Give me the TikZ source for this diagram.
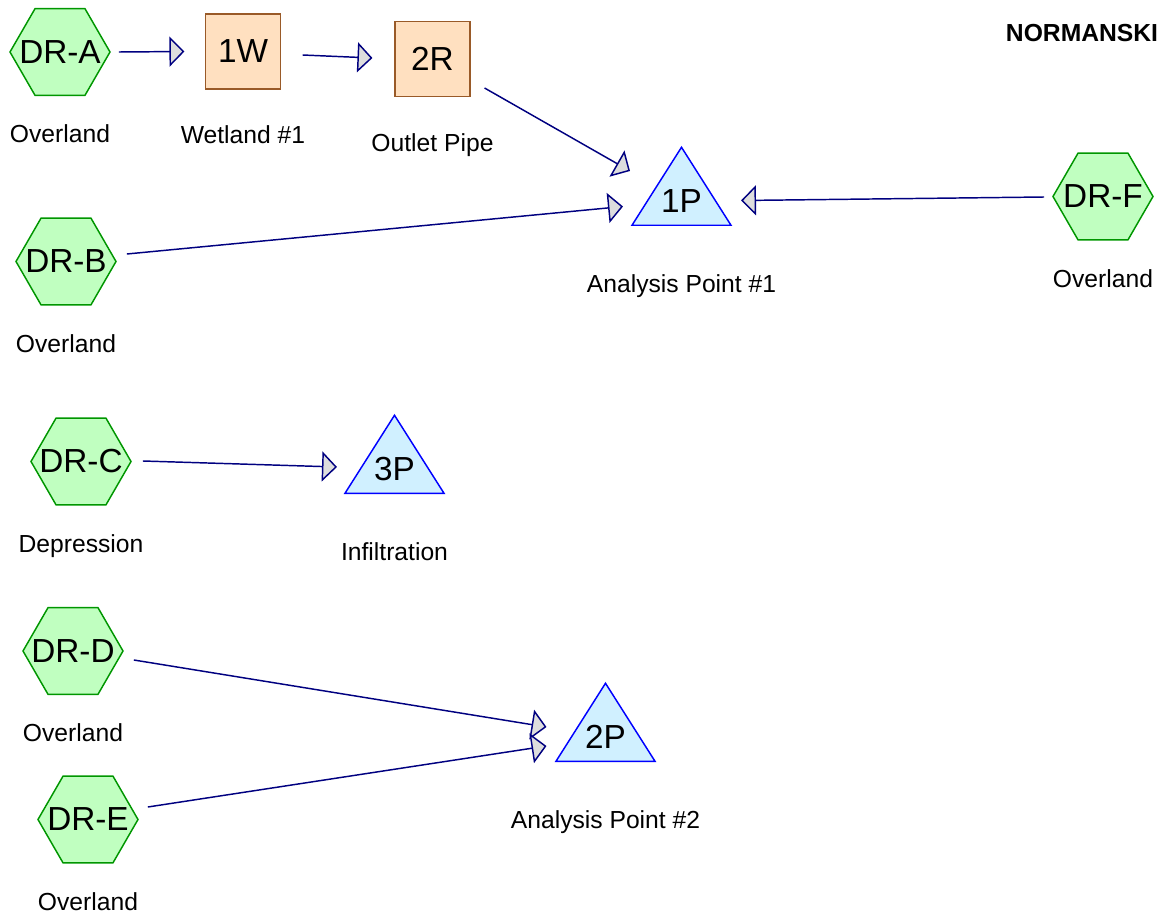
\documentclass[tikz,border=0pt]{standalone}
\usepackage{fontspec}
\setmainfont{Liberation Sans}
\usetikzlibrary{arrows.meta,positioning,calc,shapes.geometric}

\definecolor{catchfill}{RGB}{192,255,192}
\definecolor{catchdraw}{RGB}{0,150,0}
\definecolor{pondfill}{RGB}{255,224,192}
\definecolor{ponddraw}{RGB}{153,90,40}
\definecolor{linkfill}{RGB}{208,240,255}
\definecolor{linkdraw}{RGB}{0,0,255}
\definecolor{routeline}{RGB}{0,0,128}
\definecolor{tipfill}{RGB}{221,221,221}

\newcommand{\catname}[1]{\makebox[0pt]{#1}}
\newcommand{\ptname}[1]{\raisebox{3.5pt}[\height][\depth]{#1}}

\begin{document}
\begin{tikzpicture}[
  x=0.75pt, y=-0.75pt,
  flow/.style={-{Triangle[length=11.25pt, width=22.5pt, fill=tipfill]}, draw=routeline, line width=1.1pt},
  subcat/.style={
    draw=catchdraw, fill=catchfill, line width=1.1pt,
    regular polygon, regular polygon sides=6, minimum size=75pt, inner sep=0pt,
    font=\fontsize{25}{29}\selectfont
  },
  pond/.style={
    draw=ponddraw, fill=pondfill, line width=1.1pt,
    minimum size=56pt, inner sep=0pt,
    font=\fontsize{25}{29}\selectfont
  },
  apoint/.style={
    draw=linkdraw, fill=linkfill, line width=1.1pt,
    isosceles triangle, shape border rotate=90, isosceles triangle stretches,
    minimum width=74.25pt, minimum height=58.5pt, inner sep=0pt, anchor=south,
    font=\fontsize{25}{29}\selectfont
  },
  lbl/.style={inner sep=0pt, font=\fontsize{18.5}{22}\selectfont}
]
\useasboundingbox (0,0) rectangle (1158,917);

% Title
\node[font=\bfseries\fontsize{18.5}{22}\selectfont] (title) at (1082,33) {NORMANSKI};

% Subcatchments, ponds and reaches
\node[subcat] (dra) at (60,52) {\catname{DR-A}};
\node[pond] (w1) at (243,51.5) {1W};
\node[pond] (r2) at (432.5,59) {2R};
\node[subcat] (drb) at (66,261.5) {\catname{DR-B}};
\node[subcat] (drf) at (1103,196.5) {\catname{DR-F}};
\node[subcat] (drc) at (81,461.5) {\catname{DR-C}};
\node[subcat] (drd) at (73,651) {\catname{DR-D}};
\node[subcat] (dre) at (88,819.5) {\catname{DR-E}};

% Analysis points (placed at base midpoint)
\node[apoint] (p1) at (681.5,226) {\ptname{1P}};
\node[apoint] (p3) at (394.5,494) {\ptname{3P}};
\node[apoint] (p2) at (605.5,762) {\ptname{2P}};

% Labels
\node[lbl, below=21.5pt of dra] (ldra) {Overland};
\node[lbl, below=27pt of w1] (lw1) {Wetland \#1};
\node[lbl, below=27pt of r2] (lr2) {Outlet Pipe};
\node[lbl, below=21.5pt of drb] (ldrb) {Overland};
\node[lbl, below=21.5pt of drf] (ldrf) {Overland};
\node[lbl, below=21.5pt of drc] (ldrc) {Depression};
\node[lbl, below=21.5pt of drd] (ldrd) {Overland};
\node[lbl, below=21.5pt of dre] (ldre) {Overland};
\node[lbl, below=36.5pt of p1.south] (lp1) {Analysis Point \#1};
\node[lbl, below=36.5pt of p3.south] (lp3) {Infiltration};
\node[lbl, below=36.5pt of p2.south] (lp2) {Analysis Point \#2};

% Routing links
\draw[flow] ($(dra.east)+(8,0)$) -- ($(w1.west)+(-20.5,0)$);
\draw[flow] ($(w1.east)+(21.5,3.5)$) -- ($(r2.west)+(-22,-1)$);
\draw[flow] ($(r2.east)+(14,29)$) -- ($(p1.south)+(-51.5,-55)$);
\draw[flow] ($(drb.east)+(10,-7.5)$) -- ($(p1.south)+(-58.5,-19.5)$);
\draw[flow] ($(drf.west)+(-8,0.5)$) -- ($(p1.south)+(59.5,-25.5)$);
\draw[flow] ($(drc.east)+(11,-0.5)$) -- ($(p3.south)+(-57.5,-27)$);
\draw[flow] ($(drd.east)+(10,9)$) -- ($(p2.south)+(-59,-35)$);
\draw[flow] ($(dre.east)+(9,-12.5)$) -- ($(p2.south)+(-59,-16)$);

\end{tikzpicture}
\end{document}
